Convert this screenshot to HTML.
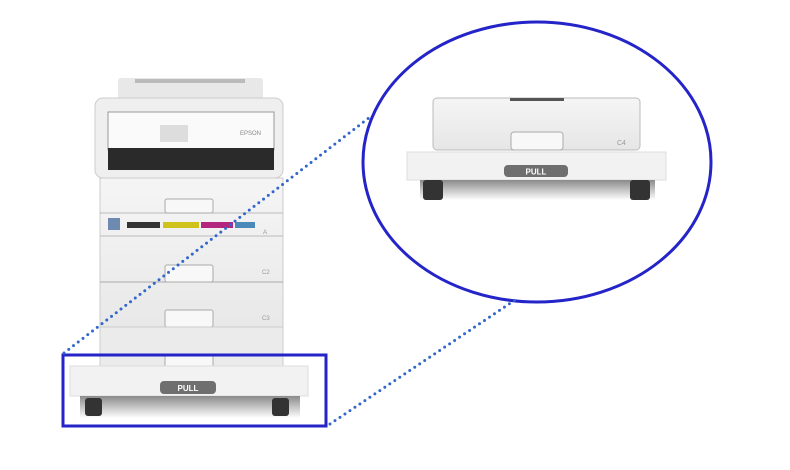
<!DOCTYPE html>
<html><head><style>body{margin:0;background:#fff}svg{display:block}</style></head><body>
<svg width="790" height="470" viewBox="0 0 790 470" xmlns="http://www.w3.org/2000/svg" font-family="Liberation Sans, sans-serif">
<defs>
<linearGradient id="sh" x1="0" y1="0" x2="0" y2="1"><stop offset="0" stop-color="#8a8a8a"/><stop offset="1" stop-color="#fff"/></linearGradient>
<linearGradient id="dr" x1="0" y1="0" x2="0" y2="1"><stop offset="0" stop-color="#f5f5f5"/><stop offset="1" stop-color="#e6e6e6"/></linearGradient>
</defs>
<rect x="118" y="78" width="145" height="24" rx="3" fill="#e8e8e8"/>
<rect x="135" y="79" width="110" height="4" fill="#bbb"/>
<rect x="95" y="98" width="188" height="80" rx="8" fill="#efefef" stroke="#ccc"/>
<rect x="108" y="112" width="166" height="38" fill="#fafafa" stroke="#999"/>
<rect x="108" y="148" width="166" height="22" fill="#2a2a2a"/>
<rect x="160" y="125" width="28" height="17" fill="#ddd"/>
<text x="240" y="135" font-size="6" fill="#888">EPSON</text>
<rect x="100" y="178" width="183" height="177" fill="url(#dr)" stroke="#ccc"/>
<line x1="100" y1="213" x2="283" y2="213" stroke="#bbb"/>
<line x1="100" y1="236" x2="283" y2="236" stroke="#bbb"/>
<line x1="100" y1="282" x2="283" y2="282" stroke="#aaa"/>
<line x1="100" y1="327" x2="283" y2="327" stroke="#aaa"/>
<rect x="127" y="222" width="33" height="6" fill="#333"/><rect x="163" y="222" width="36" height="6" fill="#cfc21a"/><rect x="201" y="222" width="32" height="6" fill="#b4267e"/><rect x="235" y="222" width="20" height="6" fill="#4b8ab8"/>
<rect x="108" y="218" width="12" height="12" fill="#6f8ab0"/>
<g fill="#f8f8f8" stroke="#aaa"><rect x="165" y="199" width="48" height="14" rx="2"/><rect x="165" y="265" width="48" height="17" rx="2"/><rect x="165" y="310" width="48" height="17" rx="2"/></g>
<g font-size="6" fill="#999"><text x="263" y="234">A</text><text x="262" y="274">C2</text><text x="262" y="320">C3</text><text x="262" y="366">C4</text></g>
<rect x="100" y="327" width="183" height="40" fill="#ebebeb" stroke="#ccc"/>
<rect x="165" y="355" width="48" height="12" rx="2" fill="#f8f8f8" stroke="#aaa"/>
<rect x="70" y="366" width="238" height="30" fill="#f2f2f2" stroke="#ddd"/>
<rect x="80" y="396" width="220" height="22" fill="url(#sh)"/>
<rect x="160" y="381" width="56" height="13" rx="4" fill="#6f6f6f"/>
<text x="188" y="391" font-size="8" font-weight="bold" fill="#fff" text-anchor="middle">PULL</text>
<rect x="85" y="398" width="17" height="18" rx="3" fill="#333"/><rect x="272" y="398" width="17" height="18" rx="3" fill="#333"/>
<rect x="433" y="98" width="207" height="52" rx="4" fill="url(#dr)" stroke="#bbb"/>
<rect x="510" y="98" width="54" height="3" fill="#555"/>
<rect x="511" y="132" width="52" height="18" rx="3" fill="#f8f8f8" stroke="#aaa"/>
<text x="617" y="145" font-size="7" fill="#999">C4</text>
<rect x="407" y="152" width="259" height="28" fill="#f2f2f2" stroke="#ddd"/>
<rect x="420" y="180" width="235" height="20" fill="url(#sh)"/>
<rect x="504" y="165" width="64" height="12" rx="4" fill="#6f6f6f"/>
<text x="536" y="174.5" font-size="8" font-weight="bold" fill="#fff" text-anchor="middle">PULL</text>
<rect x="423" y="180" width="20" height="20" rx="3" fill="#333"/><rect x="630" y="180" width="20" height="20" rx="3" fill="#333"/>
<ellipse cx="537" cy="162" rx="174" ry="140" fill="none" stroke="#2424c8" stroke-width="3"/>
<rect x="63" y="355" width="263" height="71" fill="none" stroke="#2424c8" stroke-width="3"/>
<g stroke="#3366cc" stroke-width="3" stroke-linecap="round" stroke-dasharray="0 6" fill="none">
<line x1="64" y1="353" x2="370" y2="117"/>
<line x1="330" y1="424" x2="515" y2="300"/>
</g>
</svg>
</body></html>
